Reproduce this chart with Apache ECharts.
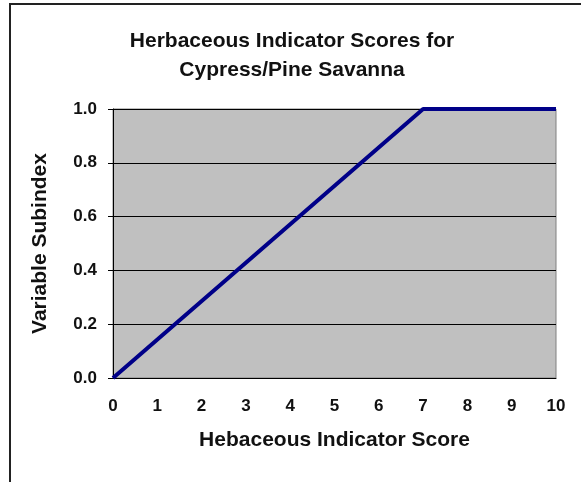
<!DOCTYPE html>
<html>
<head>
    <meta charset="utf-8" />
    <script src="https://cdn.jsdelivr.net/npm/echarts@6/dist/echarts.min.js"></script>
    <title></title>
    <style>
        html, body { margin: 0; padding: 0; background: #fff; }
    </style>
</head>
<body>
    <div id="main" style="width: 581px;height:482px;"></div>
</body>
</html>
<script>
    // score -> subindex breakpoints
    var scores = [0, 7, 10];
    var subindex = [0, 1, 1];
    var xTicks = [0, 1, 2, 3, 4, 5, 6, 7, 8, 9, 10];
    var yTicks = [0, 0.2, 0.4, 0.6, 0.8, 1.0];

    var chart = echarts.init(document.getElementById('main'));
    var font = 'Liberation Sans, Arial, sans-serif';

    var points = [];
    for (var i = 0; i < scores.length; i++) {
        points.push([scores[i], subindex[i]]);
    }

    option = {
        animation: false,
        backgroundColor: '#fff',
        title: {
            text: 'Herbaceous Indicator Scores for\nCypress/Pine Savanna',
            left: 287,
            top: 22,
            textAlign: 'center',
            textStyle: {
                fontFamily: font,
                fontSize: 21,
                fontWeight: 'bold',
                color: '#111',
                lineHeight: 29
            }
        },
        grid: {
            left: 113,
            right: 25,
            top: 109,
            bottom: 104,
            show: true,
            backgroundColor: '#c0c0c0',
            borderColor: '#808080',
            borderWidth: 1
        },
        xAxis: {
            type: 'value',
            min: xTicks[0],
            max: xTicks[xTicks.length - 1],
            interval: 1,
            name: 'Hebaceous Indicator Score',
            nameLocation: 'middle',
            nameGap: 52,
            nameTextStyle: { fontFamily: font, fontSize: 21, fontWeight: 'bold', color: '#111' },
            axisLine: { lineStyle: { color: '#000', width: 1 } },
            axisTick: { show: false },
            splitLine: { show: false },
            axisLabel: { margin: 20, fontFamily: font, fontSize: 17, fontWeight: 'bold', color: '#111' }
        },
        yAxis: {
            type: 'value',
            min: yTicks[0],
            max: yTicks[yTicks.length - 1],
            interval: 0.2,
            name: 'Variable Subindex',
            nameLocation: 'middle',
            nameGap: 62,
            nameTextStyle: { fontFamily: font, fontSize: 21, fontWeight: 'bold', color: '#111' },
            axisLine: { show: true, lineStyle: { color: '#000', width: 1 } },
            axisTick: { show: true, length: 5, lineStyle: { color: '#000' } },
            splitLine: { show: true, lineStyle: { color: '#000', width: 1 } },
            axisLabel: {
                margin: 16,
                fontFamily: font, fontSize: 17, fontWeight: 'bold', color: '#111',
                formatter: function (v) { return v.toFixed(1); }
            }
        },
        series: [
            {
                type: 'line',
                data: points,
                symbol: 'none',
                lineStyle: { color: '#000088', width: 4 },
                clip: true
            }
        ],
        graphic: [
            { type: 'line', shape: { x1: 9, y1: 4, x2: 581, y2: 4 }, style: { stroke: '#222', lineWidth: 2 } },
            { type: 'line', shape: { x1: 10, y1: 4, x2: 10, y2: 482 }, style: { stroke: '#222', lineWidth: 2 } }
        ]
    };

    chart.setOption(option);
</script>
